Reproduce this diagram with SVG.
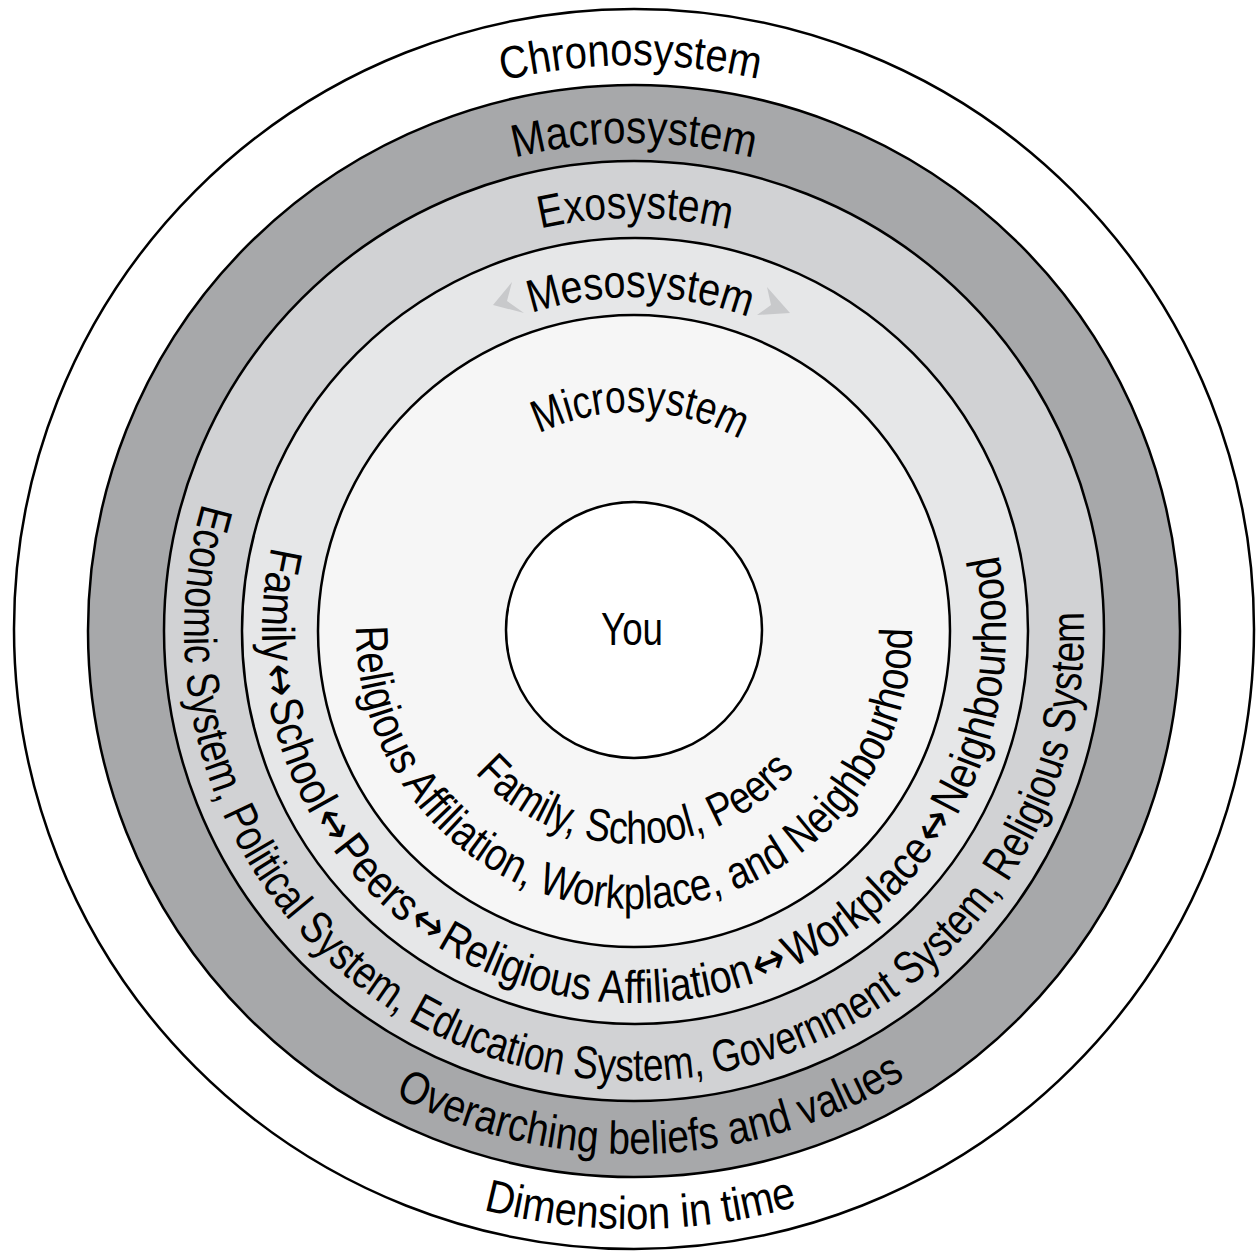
<svg xmlns="http://www.w3.org/2000/svg" width="1258" height="1251" viewBox="0 0 1258 1251">
<style>
.ring{stroke:#000;stroke-width:2.5}
.lbl{font-family:"Liberation Sans Narrow","Liberation Sans",Arial,sans-serif;font-size:46px;fill:#000}
.arw{font-family:"DejaVu Sans","Liberation Sans",sans-serif;font-size:46px}
</style>
<defs>
<path id="t566" d="M 68 631 A 566 566 0 0 1 1200 631"/>
<path id="t488" d="M 146 631 A 488 488 0 0 1 1122 631"/>
<path id="t413" d="M 221 631 A 413 413 0 0 1 1047 631"/>
<path id="t334" d="M 300 631 A 334 334 0 0 1 968 631"/>
<path id="t219" d="M 415 631 A 219 219 0 0 1 853 631"/>
<path id="b598" d="M 634 33 A 598 598 0 0 0 634 1229 A 598 598 0 0 0 634 33"/>
<path id="b523" d="M 634 108 A 523 523 0 0 0 634 1154 A 523 523 0 0 0 634 108"/>
<path id="b450" d="M 634 181 A 450 450 0 0 0 634 1081 A 450 450 0 0 0 634 181"/>
<path id="b372" d="M 634 259 A 372 372 0 0 0 634 1003 A 372 372 0 0 0 634 259"/>
<path id="b278" d="M 634 353 A 278 278 0 0 0 634 909 A 278 278 0 0 0 634 353"/>
<path id="b213" d="M 634 418 A 213 213 0 0 0 634 844 A 213 213 0 0 0 634 418"/>
</defs>
<rect width="1258" height="1251" fill="#fff"/>
<g id="chronosystem">
<circle class="ring" cx="634" cy="629" r="620" fill="#fff"/>
</g>
<g id="macrosystem">
<circle class="ring" cx="634" cy="631" r="546" fill="#a7a8aa"/>
</g>
<g id="exosystem">
<circle class="ring" cx="634" cy="631" r="470" fill="#d1d2d4"/>
</g>
<g id="mesosystem">
<circle class="ring" cx="635" cy="631" r="393" fill="#e6e7e8"/>
<polygon points="493,305 512,282 507,301 524,313" fill="#c8c9cb"/>
<polygon points="790,313 767,287 771,305 757,315" fill="#c8c9cb"/>
</g>
<g id="microsystem">
<circle class="ring" cx="634" cy="631" r="316" fill="#f6f6f6"/>
</g>
<g id="you">
<circle class="ring" cx="634" cy="630" r="128" fill="#fff"/>
<text class="lbl" x="632" y="645" text-anchor="middle" font-size="42" textLength="62" lengthAdjust="spacingAndGlyphs">You</text>
</g>
<g id="labels">
<text class="lbl" text-anchor="middle"><textPath href="#t566" startOffset="49.8%" textLength="258" lengthAdjust="spacingAndGlyphs">Chronosystem</textPath></text>
<text class="lbl" text-anchor="middle"><textPath href="#t488" startOffset="50%" textLength="241" lengthAdjust="spacingAndGlyphs">Macrosystem</textPath></text>
<text class="lbl" text-anchor="middle"><textPath href="#t413" startOffset="50.1%" textLength="191" lengthAdjust="spacingAndGlyphs">Exosystem</textPath></text>
<text class="lbl" text-anchor="middle"><textPath href="#t334" startOffset="50.6%" textLength="221" lengthAdjust="spacingAndGlyphs">Mesosystem</textPath></text>
<text class="lbl" text-anchor="middle"><textPath href="#t219" startOffset="50.9%" textLength="209" lengthAdjust="spacingAndGlyphs">Microsystem</textPath></text>
<text class="lbl" text-anchor="middle"><textPath href="#b598" startOffset="50.18%" textLength="318" lengthAdjust="spacingAndGlyphs">Dimension in time</textPath></text>
<text class="lbl" text-anchor="middle"><textPath href="#b523" startOffset="50.56%" textLength="534" lengthAdjust="spacingAndGlyphs">Overarching beliefs and values</textPath></text>
<text class="lbl" text-anchor="middle"><textPath href="#b450" startOffset="48.05%" textLength="1562" lengthAdjust="spacingAndGlyphs">Economic System, Political System, Education System, Government System, Religious System</textPath></text>
<text class="lbl" text-anchor="middle"><textPath href="#b372" startOffset="49.82%" textLength="1330" lengthAdjust="spacingAndGlyphs">Family<tspan class="arw" dx="4">↔</tspan><tspan dx="4">School</tspan><tspan class="arw" dx="4">↔</tspan><tspan dx="4">Peers</tspan><tspan class="arw" dx="4">↔</tspan><tspan dx="4">Religious Affiliation</tspan><tspan class="arw" dx="4">↔</tspan><tspan dx="4">Workplace</tspan><tspan class="arw" dx="4">↔</tspan><tspan dx="4">Neighbourhood</tspan></textPath></text>
<text class="lbl" text-anchor="middle"><textPath href="#b278" startOffset="49.94%" textLength="880" lengthAdjust="spacingAndGlyphs">Religious Affiliation, Workplace, and Neighbourhood</textPath></text>
<text class="lbl" text-anchor="middle"><textPath href="#b213" startOffset="50.1%" textLength="362" lengthAdjust="spacingAndGlyphs">Family, School, Peers</textPath></text>
</g>
</svg>
